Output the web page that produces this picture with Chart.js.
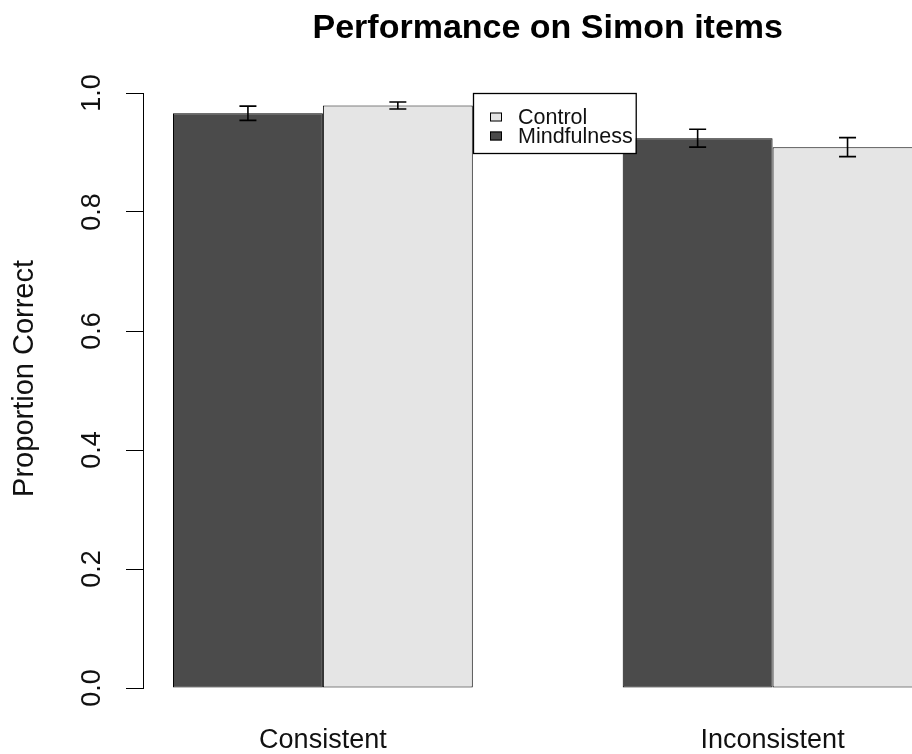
<!DOCTYPE html>
<html><head><meta charset="utf-8">
<script src="https://cdn.jsdelivr.net/npm/chart.js@4.4.0/dist/chart.umd.min.js"></script>
<style>html,body{margin:0;padding:0;background:#fff;overflow:hidden}#wrap{width:912px;height:754px;position:relative}</style>
</head><body><div id="wrap"><canvas id="c"></canvas></div>
<script>
const categories = ['Consistent', 'Inconsistent'];
const groupCenters = [2, 5];
const mindfulnessMeans = [0.966, 0.924];
const mindfulnessSE = [0.012, 0.015];
const controlMeans = [0.979, 0.909];
const controlSE = [0.006, 0.016];
const yTicks = [0, 0.2, 0.4, 0.6, 0.8, 1.0];
const legendOrder = ['Control', 'Mindfulness'];
const titleText = 'Performance on Simon items';
const yTitleText = '   Proportion Correct';

const FONT = '"Liberation Sans", Arial, sans-serif';
const DARK = '#4b4b4b', LIGHT = '#e5e5e5';

const rExtras = {
  id: 'rExtras',
  afterDatasetsDraw(chart) {
    const {ctx, scales: {x, y}} = chart;
    ctx.save();
    // error bars
    ctx.strokeStyle = '#000';
    ctx.lineWidth = 1.6;
    chart.data.datasets.forEach((ds, di) => {
      const meta = chart.getDatasetMeta(di);
      meta.data.forEach((bar, i) => {
        const m = ds.data[i].y, se = ds.se[i];
        const cx = bar.x;
        const yt = y.getPixelForValue(m + se), yb = y.getPixelForValue(m - se);
        ctx.beginPath();
        ctx.moveTo(cx, yt); ctx.lineTo(cx, yb);
        ctx.moveTo(cx - 8.5, yt); ctx.lineTo(cx + 8.5, yt);
        ctx.moveTo(cx - 8.5, yb); ctx.lineTo(cx + 8.5, yb);
        ctx.stroke();
      });
    });
    // legend placed at data coordinates (3, 1)
    const lx = Math.round(x.getPixelForValue(3)), ty = Math.round(y.getPixelForValue(1));
    ctx.font = '21.5px ' + FONT;
    const tw = Math.max(...legendOrder.map(t => ctx.measureText(t).width));
    const w = 45 + tw + 3, h = 60;
    ctx.fillStyle = '#fff';
    ctx.fillRect(lx, ty, w, h);
    ctx.lineWidth = 1.3;
    ctx.strokeStyle = '#000';
    ctx.strokeRect(lx + 0.5, ty + 0.5, w, h);
    legendOrder.forEach((name, k) => {
      const ds = chart.data.datasets.find(d => d.label === name);
      const cy = ty + 24 + k * 19;
      ctx.fillStyle = ds.backgroundColor;
      ctx.fillRect(lx + 17, cy - 4.5, 12, 9);
      ctx.lineWidth = 1;
      ctx.strokeRect(lx + 17.5, cy - 4, 11, 8);
      ctx.fillStyle = '#111';
      ctx.textBaseline = 'middle';
      ctx.textAlign = 'left';
      ctx.fillText(name, lx + 45, cy + 1);
    });
    // main title centred over the full plotting region (0.8 .. 6.2)
    ctx.font = 'bold 34px ' + FONT;
    ctx.fillStyle = '#000';
    ctx.textAlign = 'center';
    ctx.textBaseline = 'middle';
    ctx.fillText(titleText, (x.getPixelForValue(0.8) + x.getPixelForValue(6.2)) / 2, 29);
    ctx.restore();
  }
};

new Chart(document.getElementById('c'), {
  type: 'bar',
  data: {
    datasets: [
      { label: 'Mindfulness', data: groupCenters.map((g, i) => ({x: g, y: mindfulnessMeans[i]})), se: mindfulnessSE,
        backgroundColor: DARK, borderColor: '#000', borderWidth: 1, borderSkipped: false },
      { label: 'Control', data: groupCenters.map((g, i) => ({x: g, y: controlMeans[i]})), se: controlSE,
        backgroundColor: LIGHT, borderColor: '#000', borderWidth: 1, borderSkipped: false }
    ]
  },
  options: {
    responsive: true, maintainAspectRatio: false, animation: false,
    barPercentage: 1, categoryPercentage: 2 / 3,
    layout: { padding: { top: 93, left: 0, right: 0, bottom: 0 } },
    plugins: { legend: { display: false }, tooltip: { enabled: false }, title: { display: false } },
    scales: {
      x: {
        type: 'linear', min: 0.8, max: 5.93, offset: false,
        grid: { display: false, drawTicks: false, offset: false }, border: { display: false },
        afterBuildTicks: (axis) => { axis.ticks = groupCenters.map(v => ({value: v})); },
        afterFit: (s) => { s.height = 66; },
        ticks: { autoSkip: false, maxRotation: 0, padding: 39.5, color: '#111',
          font: { family: FONT, size: 27, lineHeight: 1.0 },
          callback: (v, i) => categories[i] }
      },
      y: {
        type: 'linear', min: 0, max: 1,
        afterBuildTicks: (axis) => { axis.ticks = yTicks.map(v => ({value: v})); },
        afterFit: (s) => { s.width = 143; },
        grid: { drawOnChartArea: false, drawTicks: true, tickLength: 17, color: '#000', lineWidth: 1 },
        border: { display: true, color: '#000', width: 1 },
        ticks: { minRotation: 90, maxRotation: 90, crossAlign: 'center', padding: 15, color: '#111',
          font: { family: FONT, size: 27 }, callback: (v) => Number(v).toFixed(1) },
        title: { display: true, text: yTitleText, color: '#111', padding: { top: 8, bottom: 4 },
          font: { family: FONT, size: 29 } }
      }
    }
  },
  plugins: [rExtras]
});
</script></body></html>
